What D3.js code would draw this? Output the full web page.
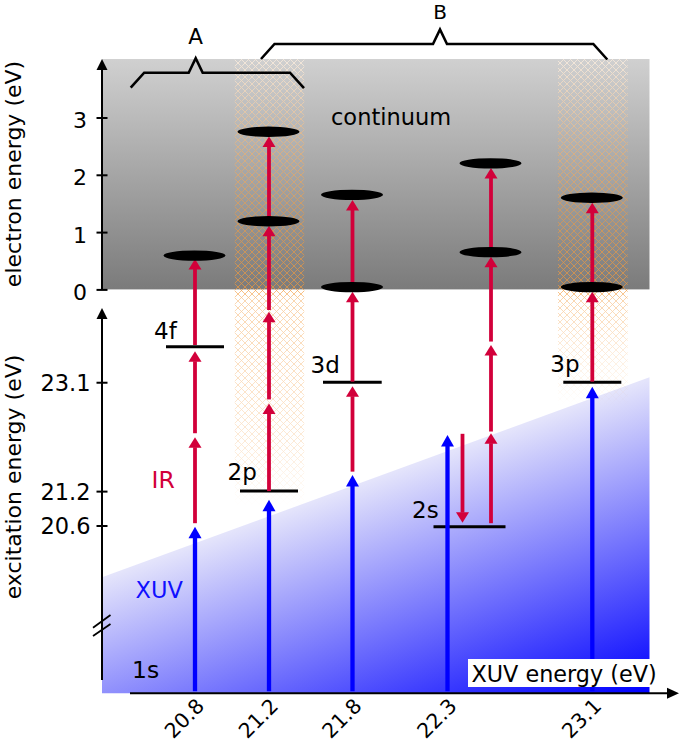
<!DOCTYPE html>
<html><head><meta charset="utf-8">
<script src="https://cdn.jsdelivr.net/npm/d3@7"></script>
<style>
body{margin:0;background:#fff}
svg{display:block;font-family:"DejaVu Sans",sans-serif}
</style>
</head><body>
<svg id="chart" width="685" height="744"></svg>
<script>
// ---------------- data (energies in eV) ----------------
const xuvEnergies = [20.8, 21.2, 21.8, 22.3, 23.1];          // XUV photon energies (columns)
const excitationTicks = [20.6, 21.2, 23.1];                     // lower axis ticks
const electronTicks = [0, 1, 2, 3];                             // upper axis ticks
const ionizationEnergy = 24.72;                                 // 0 of electron energy
const electronAxisMax = 4.02;
const levelNames = ["4f", "2p", "3d", "2s", "3p"];
const levelEnergies = [23.72, 21.2, 23.1, 20.58, 23.1];
const xuvArrowTops = [20.58, 21.05, 21.48, 22.18, 23.02];       // XUV arrow tips (excitation eV)
const irUpArrows = [
  [[20.64, 22.14], [22.21, 23.64], [23.75, 25.25]],
  [[21.2, 22.73], [22.8, 24.33], [24.36, 25.83], [25.91, 27.39]],
  [[21.54, 23.03], [23.11, 24.68], [24.76, 26.28]],
  [[20.64, 22.21], [22.24, 23.75], [23.81, 25.29], [25.37, 26.84]],
  [[23.11, 24.68], [24.76, 26.23]]
];
const irDownArrows = [null, null, null, [22.2, 20.65], null];
const electronPeaks = [[0.59], [1.19, 2.75], [0.04, 1.65], [0.65, 2.2], [0.04, 1.6]];
const hatchedColumns = [21.2, 23.1];
const groupLabels = ["A", "B"];

// ---------------- layout ----------------
const W = 685, H = 744;
const axisX = 102, plotRight = 649.5, xAxisY = 693.3;
const columnX = [195, 269, 352.5, 447.5, 592.3];
const irDx = [0, 0, 0, 43.5, 0];
const downDx = [0, 0, 0, 15, 0];
const levelSpan = [[-29, 29], [-29, 29], [-29.5, 29.2], [-14, 58], [-29, 29]];
const labelShift = [[-12, -8], [-12.5, -11.5], [-12.5, -9.5], [-21.5, -8.5], [-13, -10]];
const hatchBottom = [505, 405];
const brackets = [
  {x0: 130.7, x1: 304, peak: 195.7, y: 72.7, labelY: 44},
  {x0: 261, x1: 607.3, peak: 440, y: 44, labelY: 19}
];
const RED = "#d2003a", BLUE = "#0000ff";

const svg = d3.select("#chart");
const defs = svg.append("defs");

const x = d3.scaleLinear().domain(xuvEnergies).range(columnX);
const yE = d3.scaleLinear().domain([20.6, ionizationEnergy]).range([525.5, 289.4]);
const yEl = d3.scaleLinear().domain([0, electronAxisMax])
  .range([yE(ionizationEnergy), yE(ionizationEnergy + electronAxisMax)]);

// gradients
const gg = defs.append("linearGradient").attr("id", "grey").attr("x1", 0).attr("y1", 0).attr("x2", 0).attr("y2", 1);
gg.append("stop").attr("offset", 0).attr("stop-color", "#d0d0d0");
gg.append("stop").attr("offset", 1).attr("stop-color", "#7b7b7b");

const bg = defs.append("linearGradient").attr("id", "blue").attr("gradientUnits", "userSpaceOnUse")
  .attr("x1", 101).attr("y1", 579).attr("x2", 202).attr("y2", 856);
bg.append("stop").attr("offset", 0).attr("stop-color", "#e4e4fb");
bg.append("stop").attr("offset", 1).attr("stop-color", "#0000ff");

function hatchPattern(id, color, sw) {
  const p = defs.append("pattern").attr("id", id).attr("patternUnits", "userSpaceOnUse")
    .attr("width", 7).attr("height", 7);
  p.append("path").attr("d", "M-1,-1 L8,8 M-1,8 L8,-1").attr("stroke", color).attr("stroke-width", sw).attr("fill", "none");
}
hatchPattern("hOrange", "#f39a3c", 0.8);
hatchPattern("hWhite", "#ffffff", 0.9);

// ---------------- continuum box ----------------
const topY = yEl(electronAxisMax);
svg.append("rect").attr("x", axisX).attr("y", topY).attr("width", plotRight - axisX)
  .attr("height", yEl(0) - topY).attr("fill", "url(#grey)");

// ---------------- XUV spectrum wedge ----------------
svg.append("path")
  .attr("d", `M${axisX},${xAxisY} L${axisX},${577.3} L${plotRight},${377.3} L${plotRight},${xAxisY} Z`)
  .attr("fill", "url(#blue)");

// ---------------- hatched overlap columns ----------------
hatchedColumns.forEach((c, i) => {
  const cx = x(c), x0 = cx - 34.5, w = 70, y0 = topY, y1 = hatchBottom[i], h = y1 - y0;
  const off = y => (y - y0) / h;
  const mo = defs.append("linearGradient").attr("id", "mo" + i).attr("x1", 0).attr("y1", 0).attr("x2", 0).attr("y2", 1);
  [[0, 0.15], [off(150), 0.55], [off(290), 0.85], [off(300), 0.5], [off(y1 - 60), 0.25], [1, 0]].forEach(s =>
    mo.append("stop").attr("offset", s[0]).attr("stop-color", "#fff").attr("stop-opacity", s[1]));
  const mw = defs.append("linearGradient").attr("id", "mw" + i).attr("x1", 0).attr("y1", 0).attr("x2", 0).attr("y2", 1);
  [[0, 0.8], [off(130), 0.35], [off(220), 0], [1, 0]].forEach(s =>
    mw.append("stop").attr("offset", s[0]).attr("stop-color", "#fff").attr("stop-opacity", s[1]));
  defs.append("mask").attr("id", "mkO" + i).append("rect").attr("x", x0).attr("y", y0).attr("width", w).attr("height", h).attr("fill", `url(#mo${i})`);
  defs.append("mask").attr("id", "mkW" + i).append("rect").attr("x", x0).attr("y", y0).attr("width", w).attr("height", h).attr("fill", `url(#mw${i})`);
  svg.append("rect").attr("x", x0).attr("y", y0).attr("width", w).attr("height", h)
    .attr("fill", "url(#hWhite)").attr("mask", `url(#mkW${i})`);
  svg.append("rect").attr("x", x0).attr("y", y0).attr("width", w).attr("height", h)
    .attr("fill", "url(#hOrange)").attr("mask", `url(#mkO${i})`);
});

// ---------------- arrows ----------------
function arrow(px, ya, yb, color, sw = 4, hl = 11, hw = 13) {
  const dir = Math.sign(yb - ya);
  const base = yb - dir * hl;
  svg.append("line").attr("x1", px).attr("x2", px).attr("y1", ya).attr("y2", base + dir * 0.5)
    .attr("stroke", color).attr("stroke-width", sw);
  svg.append("path").attr("d", `M${px},${yb} L${px - hw / 2},${base} L${px + hw / 2},${base} Z`).attr("fill", color);
}

// energy levels
levelNames.forEach((n, i) => {
  const cx = x(xuvEnergies[i]), ly = yE(levelEnergies[i]);
  svg.append("line").attr("x1", cx + levelSpan[i][0]).attr("x2", cx + levelSpan[i][1])
    .attr("y1", ly).attr("y2", ly).attr("stroke", "#000").attr("stroke-width", 3);
  svg.append("text").attr("x", cx + levelSpan[i][0] + labelShift[i][0]).attr("y", ly + labelShift[i][1])
    .attr("font-size", 23).attr("fill", "#000").text(n);
});

// XUV arrows
xuvEnergies.forEach((e, i) => arrow(x(e), xAxisY - 2, yE(xuvArrowTops[i]), BLUE, 4.3, 11.5, 13));
// IR arrows
irUpArrows.forEach((segs, i) => segs.forEach(s => arrow(x(xuvEnergies[i]) + irDx[i], yE(s[0]), yE(s[1]), RED, 3.8, 10.5, 13)));
irDownArrows.forEach((s, i) => { if (s) arrow(x(xuvEnergies[i]) + downDx[i], yE(s[0]), yE(s[1]), RED, 3.8, 10.5, 13); });

// photoelectron peaks
electronPeaks.forEach((pk, i) => pk.forEach(v => {
  svg.append("ellipse").attr("cx", x(xuvEnergies[i]) + irDx[i] - 0.5).attr("cy", yEl(v))
    .attr("rx", 31).attr("ry", 5.2).attr("fill", "#000");
}));

// ---------------- axes ----------------
const black = "#000";
function axisArrowV(xp, yBottom, yTip) {
  svg.append("line").attr("x1", xp).attr("x2", xp).attr("y1", yBottom).attr("y2", yTip + 8).attr("stroke", black).attr("stroke-width", 2);
  svg.append("path").attr("d", `M${xp},${yTip} L${xp - 5.5},${yTip + 11} L${xp + 5.5},${yTip + 11} Z`).attr("fill", black);
}
axisArrowV(axisX, yEl(0), topY);
axisArrowV(axisX, 680, 308);

const upAxis = svg.append("g").attr("transform", `translate(${axisX},0)`)
  .call(d3.axisLeft(yEl).tickValues(electronTicks).tickFormat(d3.format("d")).tickSize(5).tickPadding(10));
upAxis.select(".domain").remove();
upAxis.selectAll(".tick line").attr("x1", -5.5).attr("x2", 5.5).attr("stroke-width", 2);
upAxis.selectAll(".tick text").attr("font-size", 22).attr("font-family", "DejaVu Sans").attr("fill", black).attr("dy", "0.45em");

const lowAxis = svg.append("g").attr("transform", `translate(${axisX},0)`)
  .call(d3.axisLeft(yE).tickValues(excitationTicks).tickFormat(d3.format(".1f")).tickSize(5).tickPadding(6.5));
lowAxis.select(".domain").remove();
lowAxis.selectAll(".tick line").attr("x1", -5.5).attr("x2", 5.5).attr("stroke-width", 2);
lowAxis.selectAll(".tick text").attr("font-size", 22.5).attr("font-family", "DejaVu Sans").attr("fill", black).attr("dy", "0.36em");

// axis break marks
[[627.7, 615], [636, 624]].forEach(b => svg.append("line").attr("x1", 93).attr("y1", b[0]).attr("x2", 110.5).attr("y2", b[1])
  .attr("stroke", black).attr("stroke-width", 1.8));

// bottom XUV axis
svg.append("line").attr("x1", 130).attr("x2", 670).attr("y1", xAxisY).attr("y2", xAxisY).attr("stroke", black).attr("stroke-width", 2);
svg.append("path").attr("d", `M679,${xAxisY} L667,${xAxisY - 5.5} L667,${xAxisY + 5.5} Z`).attr("fill", black);
const botAxis = svg.append("g").attr("transform", `translate(0,${xAxisY})`)
  .call(d3.axisBottom(x).tickValues(xuvEnergies).tickFormat(d3.format(".1f")).tickSize(0));
botAxis.select(".domain").remove();
botAxis.selectAll(".tick text").attr("font-size", 20.5).attr("font-family", "DejaVu Sans").attr("fill", black)
  .attr("text-anchor", "end").attr("x", 0).attr("y", 0).attr("dy", 0)
  .attr("transform", "translate(10,14) rotate(-45)");

// XUV energy label
svg.append("rect").attr("x", 468).attr("y", 659).attr("width", 191).attr("height", 28).attr("fill", "#fff");
svg.append("text").attr("x", 471.5).attr("y", 682).attr("font-size", 22.3).text("XUV energy (eV)");

// axis titles
svg.append("text").attr("transform", `translate(20.5,174) rotate(-90)`).attr("text-anchor", "middle")
  .attr("font-size", 22).text("electron energy (eV)");
svg.append("text").attr("transform", `translate(20.5,477) rotate(-90)`).attr("text-anchor", "middle")
  .attr("font-size", 22).text("excitation energy (eV)");

// annotations
svg.append("text").attr("x", 331).attr("y", 125).attr("font-size", 22.5).text("continuum");
svg.append("text").attr("x", 151.5).attr("y", 488).attr("font-size", 23.5).attr("fill", RED).text("IR");
svg.append("text").attr("x", 135.5).attr("y", 598).attr("font-size", 22.5).attr("fill", "#1010ff").text("XUV");
svg.append("text").attr("x", 132).attr("y", 678).attr("font-size", 23.5).text("1s");

// brackets
brackets.forEach((b, i) => {
  const pts = [[b.x0, b.y + 15], [b.x0 + 13.5, b.y], [b.peak - 7, b.y], [b.peak, b.y - 14.5],
               [b.peak + 7, b.y], [b.x1 - 14, b.y], [b.x1, b.y + 15.5]];
  svg.append("path").attr("d", d3.line()(pts)).attr("fill", "none").attr("stroke", black).attr("stroke-width", 2.6)
    .attr("stroke-linejoin", "miter");
  svg.append("text").attr("x", b.peak).attr("y", b.labelY).attr("text-anchor", "middle")
    .attr("font-size", i === 0 ? 21.5 : 20).text(groupLabels[i]);
});
</script>
</body></html>
